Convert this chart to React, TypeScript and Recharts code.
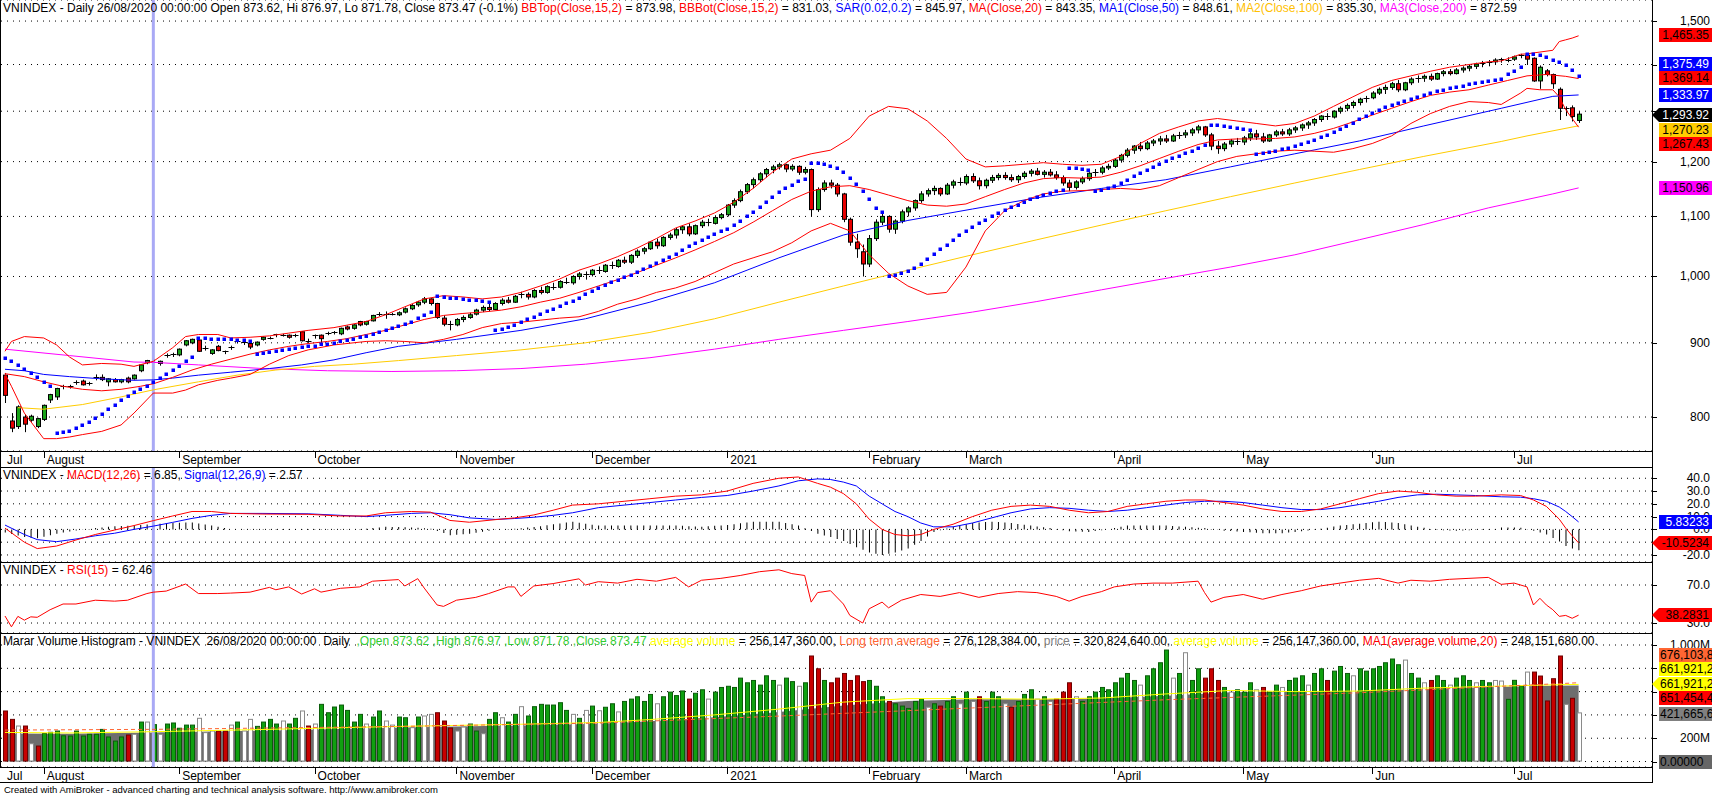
import React from "react";
import { ComposedChart, Bar, Line, Area, XAxis, YAxis, CartesianGrid, ReferenceLine } from "recharts";

// first bar of each month (bar index) and its label
const MONTHS: [number, string][] = [
  [0, "Jul"], [6, "August"], [27, "September"], [48, "October"], [70, "November"],
  [91, "December"], [112, "2021"], [134, "February"], [149, "March"], [172, "April"],
  [192, "May"], [212, "Jun"], [234, "Jul"],
];
const SELECTED = 23; // 26/08/2020

// open, high, low, close  (Jul 24 2020 .. Jul 15 2021)
const OHLC: number[][] = [
  [855,858,818,828],[795,805,781,786],[788,815,785,813],[800,803,781,791],[796,803,794,801],[788,799,786,798],
  [797,816,795,815],[822,830,818,829],[826,838,822,837],[839,842,836,840],[840,842,837,840],[845,848,842,846],[847,849,841,842],[843,846,841,845],[850,856,848,852],[852,856,847,849],[846,851,840,850],[849,851,845,846],[846,850,844,849],[851,853,844,846],[850,856,849,855],[861,870,859,869],[872,876,870,875],[873.62,876.97,871.78,873.47],[871,875,868,874],[881,885,879,883],[883,886,880,884],
  [883,892,881,891],[897,904,895,903],[900,906,898,905],[904,905,887,888],[891,896,889,892],[885,891,883,890],[895,897,888,889],[887,889,884,888],[892,896,890,894],[901,904,899,902],[900,903,897,901],[899,900,891,894],[897,902,895,901],[905,909,903,908],[907,909,905,907],[910,913,908,912],[911,913,909,911],[911,912,906,908],[911,913,908,911],[916,917,902,903],[903,906,900,903],
  [909,912,906,911],[911,912,899,906],[913,916,911,914],[915,917,912,915],[913,922,911,921],[923,925,918,920],[921,927,919,926],[931,932,924,926],[927,932,925,931],[932,941,931,940],[942,945,939,942],[942,946,935,942],[942,944,940,942],[941,946,939,944],[945,952,943,950],[950,957,948,955],[956,962,953,960],[960,968,957,965],[965,966,955,958],[958,959,935,937],[936,940,924,927],[927,932,918,925],
  [926,936,924,934],[934,940,930,937],[937,944,935,941],[942,950,940,948],[948,955,945,952],[952,958,946,949],[949,960,948,958],[958,966,955,963],[963,968,958,960],[960,971,959,969],[970,976,966,972],[972,975,964,968],[968,980,966,978],[978,984,972,975],[975,986,973,984],[984,990,979,983],[983,994,981,992],[992,998,988,990],[990,1002,987,1000],[1000,1007,995,1004],[1004,1008,995,1003],
  [1003,1012,1000,1010],[1010,1016,1004,1008],[1008,1020,1006,1018],[1018,1024,1012,1016],[1016,1028,1014,1026],[1026,1032,1020,1023],[1023,1036,1020,1034],[1034,1044,1030,1041],[1041,1048,1036,1045],[1045,1058,1043,1056],[1056,1062,1045,1050],[1050,1066,1048,1064],[1064,1072,1060,1068],[1068,1080,1062,1077],[1077,1085,1070,1082],[1082,1088,1066,1070],[1070,1086,1068,1084],[1084,1094,1080,1090],[1090,1096,1083,1088],[1088,1102,1086,1098],[1098,1106,1095,1103],
  [1103,1122,1100,1120],[1120,1132,1115,1128],[1128,1148,1125,1144],[1144,1160,1140,1157],[1157,1170,1150,1166],[1166,1180,1162,1177],[1177,1188,1170,1185],[1185,1194,1178,1190],[1190,1198,1185,1194],[1194,1196,1180,1186],[1186,1195,1182,1191],[1191,1193,1175,1180],[1180,1190,1176,1185],[1185,1187,1100,1112],[1112,1152,1108,1148],[1148,1165,1144,1160],[1160,1166,1150,1156],[1156,1160,1135,1140],[1140,1142,1090,1095],[1095,1098,1050,1056],[1056,1070,1030,1045],[1040,1052,1000,1020],
  [1020,1068,1015,1062],[1062,1095,1058,1090],[1090,1106,1085,1100],[1100,1102,1072,1078],[1078,1095,1070,1092],[1092,1112,1088,1108],[1108,1118,1100,1115],[1115,1130,1110,1128],[1128,1145,1124,1140],[1140,1150,1135,1146],[1146,1155,1138,1150],[1150,1152,1136,1140],[1140,1160,1138,1156],[1156,1166,1150,1162],[1162,1170,1155,1160],
  [1160,1176,1156,1172],[1172,1178,1160,1164],[1164,1170,1148,1155],[1155,1168,1150,1165],[1165,1175,1160,1170],[1170,1178,1165,1174],[1174,1180,1166,1170],[1170,1176,1162,1166],[1166,1175,1160,1172],[1172,1182,1168,1178],[1178,1186,1172,1182],[1182,1188,1174,1176],[1176,1184,1170,1180],[1180,1186,1172,1175],[1175,1182,1166,1170],[1170,1174,1155,1160],[1160,1166,1145,1152],[1152,1165,1148,1162],[1162,1172,1158,1168],[1168,1180,1164,1178],[1178,1186,1172,1180],[1180,1192,1176,1188],[1188,1196,1184,1191],
  [1191,1206,1188,1203],[1203,1215,1198,1212],[1212,1226,1208,1222],[1222,1232,1215,1230],[1230,1238,1220,1225],[1225,1240,1222,1236],[1236,1244,1230,1240],[1240,1250,1232,1244],[1244,1252,1236,1240],[1240,1254,1238,1250],[1250,1258,1244,1252],[1252,1262,1246,1256],[1256,1266,1250,1262],[1262,1272,1255,1268],[1268,1270,1248,1252],[1252,1256,1222,1230],[1230,1240,1215,1225],[1225,1238,1220,1234],[1234,1244,1228,1240],[1240,1246,1232,1238],
  [1238,1250,1232,1246],[1246,1258,1240,1254],[1254,1262,1242,1248],[1248,1256,1236,1240],[1240,1254,1238,1252],[1252,1262,1248,1258],[1258,1264,1250,1254],[1254,1266,1250,1262],[1262,1270,1256,1266],[1266,1275,1260,1272],[1272,1280,1264,1276],[1276,1286,1270,1283],[1283,1292,1278,1290],[1290,1296,1282,1288],[1288,1302,1285,1300],[1300,1310,1295,1306],[1306,1316,1300,1312],[1312,1322,1306,1318],[1318,1328,1312,1325],[1325,1332,1318,1328],
  [1328,1342,1325,1338],[1338,1350,1334,1346],[1346,1356,1336,1350],[1350,1362,1345,1358],[1358,1366,1340,1345],[1345,1362,1342,1360],[1360,1372,1355,1368],[1368,1376,1360,1370],[1370,1378,1362,1374],[1374,1380,1364,1368],[1368,1382,1366,1380],[1380,1388,1374,1384],[1384,1390,1376,1380],[1380,1392,1378,1388],[1388,1396,1382,1392],[1392,1400,1385,1396],[1396,1404,1390,1401],[1401,1408,1394,1404],[1404,1410,1396,1406],[1406,1414,1400,1410],[1410,1415,1404,1412],[1411,1416,1405,1411],
  [1412,1420,1408,1417],[1420,1424,1414,1421],[1421,1424,1399,1412],[1414,1416,1362,1364],[1364,1398,1347,1394],[1386,1390,1374,1378],[1378,1380,1347,1358],[1346,1350,1282,1306],[1307,1310,1290,1307],[1307,1312,1279,1289],[1281,1300,1276,1293.92],
];

// parabolic SAR, one value per bar
const SAR: number[] = [
  878,875,869,864,858,852,846,840,780,781,783,786,790,794,799,804,810,816,822,827,832,836,841,846,851,857,862,868,874,880,
  907,907,906,906,905,905,904,904,903,884,886,887,888,890,891,893,894,895,896,898,899,900,902,904,906,908,910,912,915,918,
  921,924,927,931,936,941,945,969,968,967,966,965,964,963,962,961,918,920,923,926,930,934,938,942,946,950,954,958,962,967,
  972,977,982,987,991,995,999,1003,1007,1012,1017,1022,1027,1032,1037,1043,1049,1054,1059,1064,1069,1074,1079,1085,1092,1100,1108,1117,1126,1135,
  1144,1151,1157,1163,1168,1198,1197,1195,1192,1187,1180,1170,1158,1145,1130,1115,1108,1000,1002,1005,1009,1014,1020,1028,1036,1044,1052,1060,1068,1075,
  1082,1088,1094,1100,1106,1111,1116,1121,1126,1130,1134,1138,1142,1145,1148,1188,1187,1186,1185,1145,1147,1150,1154,1160,1166,1172,1178,1184,1190,1196,
  1201,1206,1211,1216,1221,1227,1233,1272,1271,1270,1268,1266,1264,1262,1215,1217,1219,1221,1224,1227,1230,1234,1238,1242,1247,1252,1257,1263,1269,1276,
  1283,1290,1297,1303,1308,1313,1318,1322,1326,1330,1334,1338,1342,1345,1348,1351,1354,1357,1360,1362,1364,1366,1368,1379,1386,1395,1424,1424,1422,1417,
  1411,1405,1398,1388,1375.49,
];

// sparse readings [bar, value] ([bar, top, bottom] for the bands)
const BB: number[][] = [
  [0,888,857],[1,902,840],[3,909,805],[6,907,773],[8,897,773],[10,880,775],[12,869,778],[15,871,782],[18,870,790],[20,867,805],[23,873.98,831.03],[26,893,831],[28,909,835],[30,912,842],[33,912,848],[35,907,851],[38,908,856],[41,910,870],[44,914,882],[47,918,890],[51,922,897],[56,931,902],[59,941,903],[62,953,902],[65,965,900],[68,970,905],[71,968,912],[74,965,922],[77,968,928],[80,975,930],[83,985,933],[86,996,936],[89,1010,938],[92,1020,946],[95,1032,957],[98,1046,965],[101,1062,975],[104,1080,982],[107,1092,992],[110,1106,1006],[113,1125,1020],[116,1150,1030],[119,1180,1040],[122,1205,1055],[125,1215,1075],[128,1222,1088],[131,1245,1075],[134,1290,1035],[137,1310,1005],[140,1305,985],[143,1280,972],[146,1245,975],[149,1205,1015],[152,1190,1075],[155,1192,1110],[158,1195,1128],[161,1198,1140],[164,1195,1145],[167,1193,1146],[170,1195,1148],[173,1210,1150],[176,1235,1148],[179,1255,1155],[182,1268,1170],[185,1280,1185],[188,1285,1200],[191,1280,1210],[194,1275,1215],[197,1270,1220],[200,1275,1222],[203,1290,1220],[206,1310,1218],[209,1330,1225],[212,1350,1235],[215,1365,1250],[218,1375,1275],[221,1385,1295],[224,1394,1310],[227,1400,1320],[230,1406,1318],[232,1408,1314],[235,1423,1338],[236,1424,1348],[238,1428,1345],[240,1432,1345],[241,1452,1330],[242,1456,1303],[243,1460,1285],[244,1465.35,1267.43],
];
const MA20: number[][] = [
  [0,857],[3,853],[6,846],[9,840],[12,836],[15,834],[18,836],[21,840],[23,843.35],[26,852],[29,862],[32,870],[35,877],[38,884],[41,890],[44,895],[47,899],[50,902],[53,906],[56,912],[59,918],[62,926],[65,934],[68,940],[71,943],[74,945],[77,948],[80,953],[83,960],[86,966],[89,975],[92,985],[95,995],[98,1006],[101,1018],[104,1030],[107,1043],[110,1057],[113,1072],[116,1090],[119,1110],[122,1130],[125,1145],[128,1153],[131,1155],[134,1148],[137,1138],[140,1128],[143,1120],[146,1118],[149,1122],[152,1135],[155,1148],[158,1160],[161,1168],[164,1170],[167,1169],[170,1171],[173,1180],[176,1192],[179,1206],[182,1220],[185,1233],[188,1242],[191,1244],[194,1244],[197,1245],[200,1248],[203,1255],[206,1265],[209,1278],[212,1292],[215,1306],[218,1320],[221,1333],[224,1340],[227,1345],[230,1355],[233,1365],[236,1375],[239,1378],[242,1374],[244,1369.14],
];
const MA50: number[][] = [
  [0,863],[3,861],[6,856],[10,853],[15,850],[20,848],[23,848.61],[26,851],[30,855],[35,859],[41,864],[46,869],[51,876],[56,886],[61,895],[70,905],[80,918],[90,935],[100,960],[110,990],[120,1030],[130,1068],[140,1093],[150,1113],[160,1133],[170,1150],[180,1166],[190,1190],[200,1215],[210,1240],[220,1270],[232,1306],[240,1331],[244,1333.97],
];
const MA100: number[][] = [
  [2,812],[6,810],[12,816],[18,826],[23,835.3],[30,846],[36,855],[42,862],[48,867],[54,870],[61,875],[70,882],[80,890],[90,900],[100,915],[110,935],[120,960],[130,985],[140,1010],[150,1035],[160,1060],[170,1085],[180,1110],[190,1135],[200,1160],[210,1185],[220,1210],[232,1239],[236,1250],[244,1270.23],
];
const MA200: number[][] = [
  [0,891],[10,882],[20,873],[23,872.59],[30,869],[40,864],[50,861],[60,860],[70,861],[80,864],[90,870],[100,879],[110,891],[120,905],[130,918],[140,931],[150,945],[160,961],[170,979],[180,997],[190,1015],[200,1035],[210,1060],[220,1086],[230,1115],[240,1140],[244,1150.96],
];
const MACD: number[][] = [
  [0,1],[3,-10],[5,-15],[8,-13],[11,-8.3],[14,-4],[17,-0.5],[20,3],[23,6.85],[26,10.5],[29,14],[32,14],[35,12.5],[40,12],[47,11.8],[52,10.5],[56,10.5],[59,13],[63,14],[66,13.5],[69,7],[72,5.6],[76,7.6],[79,9],[82,11.3],[85,15],[88,19],[92,20],[96,22],[100,24],[104,26],[108,27],[112,30],[116,36],[120,40],[123,41],[126,36],[128,33],[130,28],[132,20],[134,8],[136,0],[138,-4],[140,-5],[142,-4],[144,0],[147,4],[150,10],[153,15],[156,18],[159,19],[162,18],[165,15],[168,13],[171,14],[174,18],[177,20],[180,22],[183,23],[186,23],[189,21],[192,19],[195,16],[198,14],[201,14],[204,16],[207,20],[210,24],[213,28],[216,30],[219,29],[222,27],[225,26],[228,26],[232,27],[235,26.5],[237,23],[239,18],[241,8],[242,1],[243,-5],[244,-10.52],
];
const SIGNAL: number[][] = [
  [0,3.4],[3,-4],[5,-8],[8,-9.6],[11,-7.5],[14,-5],[17,-3],[20,0],[23,2.57],[26,5.5],[29,8.6],[32,11],[35,12.5],[40,12.5],[47,12.2],[52,11],[56,10],[59,11],[63,12.5],[66,13],[69,11.5],[72,9],[76,7.8],[79,8.5],[82,9.5],[85,11],[88,13],[92,17],[96,19],[100,21],[104,23],[108,25],[112,26.5],[116,30],[120,34],[123,38],[126,39.5],[128,39],[130,37],[132,34],[134,26],[136,20],[138,14],[140,10],[142,5],[144,2],[147,2],[150,5],[153,9],[156,13],[159,16],[162,17],[165,16.5],[168,15],[171,14],[174,15],[177,17],[180,19],[183,21],[186,22],[189,22],[192,21],[195,19],[198,17],[201,15.5],[204,15.5],[207,17],[210,19.5],[213,22],[216,25],[219,27],[222,27.5],[225,27],[228,26.5],[232,25.5],[235,25.2],[237,24],[239,22],[241,17.5],[242,14],[243,10],[244,5.83],
];
// MACD histogram, one value per bar
const HIST: number[] = [
  -2.4,-3.6,-4.8,-6,-6.5,-7,-5.8,-4.6,-3.4,-2.5, -1.7,-0.8,-0.2,0.4,1,1.5,2,2.5,2.7,2.8,
  3,3.4,3.9,4.3,4.5,4.8,5,5.1,5.3,5.4, 4.6,3.8,3,2,1,0,-0.1,-0.2,-0.3,-0.4,
  -0.5,-0.5,-0.5,-0.5,-0.4,-0.4,-0.4,-0.4,-0.5,-0.5, -0.5,-0.5,-0.5,-0.2,0,0.3,0.5,1,1.5,2,
  1.9,1.8,1.6,1.5,1.2,0.8,0.5,-1.2,-2.8,-4.5, -4.1,-3.8,-3.4,-2.6,-1.8,-1,-0.2,0,0.3,0.5,
  0.9,1.4,1.8,2.5,3.3,4,4.7,5.3,6,5.2, 4.5,3.7,3,3,3,3,3,3,3,3,
  3,3,3,3,3,2.8,2.5,2.3,2,2.4, 2.8,3.1,3.5,4.1,4.8,5.4,6,6,6,6,
  6,5,4,3,0.8,-1.3,-3.5,-4.8,-6,-7.5, -9,-11.5,-14,-16,-18,-19,-20,-19,-18,-16.5,
  -15,-12,-9,-5.5,-2,-0.7,0.7,2,3,4, 5,5.3,5.7,6,5.7,5.3,5,4.3,3.7,3,
  2.3,1.7,1,0.2,-0.7,-1.5,-1.7,-1.8,-2,-1.3, -0.7,0,1,2,3,3,3,3,3,3,
  3,2.7,2.3,2,1.7,1.3,1,0.3,-0.3,-1, -1.3,-1.7,-2,-2.3,-2.7,-3,-3,-3,-3,-2.5,
  -2,-1.5,-0.8,-0.2,0.5,1.3,2.2,3,3.5,4, 4.5,5,5.5,6,5.7,5.3,5,4,3,2,
  1.2,0.3,-0.5,-0.7,-0.8,-1,-0.8,-0.7,-0.5,-0.4, -0.3,-0.2,1.5,1.4,1.4,1.3,0.2,-1,-2.5,-4,
  -6.7,-9.5,-13,-15,-16.35,
];
const RSI: number[][] = [
  [0,37.4],[1,26],[2,37],[3,33],[4,36.5],[5,36],[7,44],[9,50],[11,50],[14,54],[17,53],[19,54],[22,61],[23,62.46],[25,63.6],[28,71],[30,61],[33,61],[35,61.5],[38,62.5],[41,67.5],[42,65],[44,68],[46,60.5],[48,66],[49,62.5],[52,66.5],[55,68],[57,74],[61,75.7],[62,69],[64,76.7],[65,66.8],[67,49],[68,47.5],[70,54],[73,57],[75,61],[78,68],[79,68],[80,58],[82,69],[85,71.5],[89,76.5],[90,70],[92,73.5],[95,72],[98,76],[101,74],[104,78],[106,68],[108,75],[111,77],[114,80],[117,84],[120,86],[122,82],[124,80],[125,52],[126,62],[128,64],[130,50],[131,38],[133,30],[134,45],[136,52],[137,46],[139,54],[142,60],[145,58],[148,62],[151,57],[154,61],[157,63],[160,62],[163,58],[165,53],[167,58],[170,63],[172,68],[175,71],[178,72],[181,72],[185,74],[186,62],[187,52],[189,57],[192,60],[195,55],[198,60],[201,64],[204,69],[207,72],[210,75],[213,77],[216,72],[218,75],[221,74],[224,76],[227,77],[230,78],[232,70.7],[234,72],[236,68],[237,49],[238,56],[239,49],[240,44],[241,37],[242,38],[243,35],[244,38.28],
];

// volume in millions, one per bar, and Marar colour: g = green, r = red, w = white
const VOLUME: number[] = [
  438,366,309,309,157,137,245,255,266,225,223,266,223,238,238,280,215,180,215,232,238,343,343,320.8,238,326,335,
  290,317,317,375,252,266,266,266,317,343,266,366,306,343,366,326,352,326,375,438,309,
  326,495,423,472,489,443,343,409,326,386,438,352,317,386,380,295,386,395,409,423,352,292,
  266,300,326,266,243,366,423,380,343,409,475,395,475,495,489,489,509,443,409,375,443,
  480,440,470,500,430,520,540,560,520,580,500,560,600,570,610,540,590,620,540,600,640,
  650,640,720,680,700,660,740,700,660,720,690,650,680,910,800,700,680,720,760,700,740,690,
  700,650,560,520,500,480,460,520,540,470,500,480,520,560,500,
  600,520,560,520,600,560,500,470,520,580,620,540,560,520,540,600,680,560,520,560,600,640,620,
  680,720,760,700,660,740,800,852,961,720,760,938,700,800,720,800,700,640,600,620,
  600,680,620,640,600,660,640,700,720,740,660,760,800,700,780,820,760,740,800,780,
  800,820,852,884,835,875,760,720,680,700,740,700,660,720,740,700,680,700,680,700,695,538,
  701,652,772,772,738,524,715,910,495,547,421.67,
];
const VOL_COLOR: string[] = (
  "rrwrwrgggggggggggggrwgwgwgg" + "gggwwwrrwgwwggggwggwr" + "wgggggggwggwwggwgwwrrr" +
  "wwggwggwggwgggggggwgw" + "gwggwgggggwggggrggwgg" + "ggggggggwggwgrrgrrrrrr" +
  "gggrgggggwgrggw" + "gwrgggwrgggwgwrrrwggggg" + "ggggwggggwgwggrrrgwg" +
  "ggwrggwgggwggrgggwgg" + "gggggwggwrggwgggwggwwg" + "ggwrrrrrwrw"
).split("");
const AVG_VOL: number[][] = [
  [0,250],[10,245],[23,256.15],[40,275],[60,300],[80,320],[92,335],[100,360],[110,400],[120,450],[130,510],[140,540],[150,540],[160,535],[170,545],[180,580],[190,610],[200,600],[210,605],[220,630],[230,645],[240,658],[244,661.92],
];
const AVG_VOL_MA: number[][] = [
  [0,240],[10,238],[23,248.15],[40,265],[60,290],[80,310],[92,325],[100,345],[110,380],[120,425],[130,480],[140,520],[150,535],[160,535],[170,540],[180,565],[190,595],[200,600],[210,600],[220,620],[230,640],[240,650],[244,651.45],
];
const LONG_AVG: number[][] = [
  [0,270],[23,276.13],[60,300],[92,330],[120,390],[150,460],[180,530],[210,590],[244,676.1],
];

const PRICE_TICKS = [800, 900, 1000, 1100, 1200, 1300, 1400, 1500];
const MACD_TICKS = [-20, -10, 0, 10, 20, 30, 40];
const RSI_TICKS = [30, 70];
const VOL_TICKS = [0, 200, 400, 600, 800, 1000];

const W = 1712;
const X_DOMAIN: [number, number] = [-0.62, 255.38];
const FONT = "'Liberation Sans', Arial, Helvetica, sans-serif";
const SEL_COLOR = "#a9a9f5";
const UP = "#19a319";
const DOWN = "#e60000";

const rows: any[] = OHLC.map((d, i) => ({
  i, o: d[0], h: d[1], l: d[2], c: d[3], range: [d[2], d[1]],
  sar: SAR[i], hist: HIST[i], vol: VOLUME[i], vc: VOL_COLOR[i],
}));
const put = (key: string, pts: number[][], col = 1) => pts.forEach((p) => { rows[p[0]][key] = p[col]; });
put("bbTop", BB, 1);
put("bbBot", BB, 2);
put("ma20", MA20);
put("ma50", MA50);
put("ma100", MA100);
put("ma200", MA200);
put("macd", MACD);
put("signal", SIGNAL);
put("rsi", RSI);
put("avgVol", AVG_VOL);
put("avgVolMa", AVG_VOL_MA);
put("longAvg", LONG_AVG);

const monthLabel: Record<number, string> = Object.fromEntries(MONTHS);

const MonthTick = ({ x, y, payload }: any) => {
  const first = payload.value === 0;
  const px = Math.round(x) + 0.5;
  return (
    <g>
      {!first && <line x1={px} x2={px} y1={y} y2={y + 7} stroke="#000" />}
      <text x={first ? x + 2 : x + 3} y={y + 13} fontSize={12} fontFamily={FONT} fill="#000">
        {monthLabel[payload.value]}
      </text>
    </g>
  );
};

// labels listed in "covered" sit fully under a value badge, so only their tick mark is drawn
const AxisTick = ({ x, y, payload, fmt, covered }: any) => {
  const py = Math.round(y) + 0.5;
  const hidden = covered && covered.includes(payload.value);
  return (
    <g>
      <line x1={x} x2={x + 5} y1={py} y2={py} stroke="#000" />
      {!hidden && (
        <text x={W - 2} y={y + 4} textAnchor="end" fontSize={12} fontFamily={FONT} fill="#000">
          {fmt(payload.value)}
        </text>
      )}
    </g>
  );
};

const Candle = (props: any) => {
  const { x, y, width, height, payload } = props;
  if (!payload || x == null || y == null) return null;
  const cx = Math.round(x + width / 2) + 0.5;
  const { o, h, l, c } = payload;
  const lh = Math.log(h);
  const ll = Math.log(l);
  const py = (v: number) => (lh === ll ? y : y + (height * (lh - Math.log(v))) / (lh - ll));
  const top = py(Math.max(o, c));
  const bot = py(Math.min(o, c));
  const flat = bot - top < 1.5;
  return (
    <g>
      <line x1={cx} x2={cx} y1={y} y2={y + height} stroke="#000" />
      {flat ? (
        <line x1={cx - 3} x2={cx + 3} y1={Math.round(top) + 0.5} y2={Math.round(top) + 0.5} stroke="#000" />
      ) : (
        <rect x={cx - 2} y={top} width={4} height={bot - top} fill={c > o ? UP : DOWN} stroke="#000" />
      )}
    </g>
  );
};

const VOL_STYLE: Record<string, { fill: string; stroke: string }> = {
  g: { fill: "#10a010", stroke: "#0a5c0a" },
  r: { fill: "#c80000", stroke: "#6e0000" },
  w: { fill: "#ffffff", stroke: "#8a8a8a" },
};

const VolBar = (props: any) => {
  const { x, y, width, height, payload } = props;
  if (!payload || x == null || !(height > 0)) return null;
  const cx = Math.round(x + width / 2);
  const s = VOL_STYLE[payload.vc] || VOL_STYLE.w;
  return <rect x={cx - 2 + 0.5} y={y + 0.5} width={4} height={Math.max(0, height - 1)} fill={s.fill} stroke={s.stroke} />;
};

const SarDot = (p: any) => {
  if (p.cy == null || p.cx == null) return <g key={`s${p.index}`} />;
  return <rect key={`s${p.index}`} x={Math.round(p.cx) - 1.5} y={Math.round(p.cy) - 1.5} width={3.5} height={3.5} fill="#0000ff" />;
};

const line = (key: string, color: string, extra: any = {}) => (
  <Line
    key={key}
    dataKey={key}
    type="linear"
    stroke={color}
    strokeWidth={1}
    dot={false}
    activeDot={false}
    connectNulls
    isAnimationActive={false}
    {...extra}
  />
);

const Title = ({ top, parts }: { top: number; parts: [string, string][] }) => (
  <div style={{ position: "absolute", left: 3, top, fontSize: 12, lineHeight: "15px", whiteSpace: "pre", fontFamily: FONT }}>
    {parts.map(([t, col], k) => (
      <span key={k} style={{ color: col }}>{t}</span>
    ))}
  </div>
);

type Badge = { t: string; bg: string; fg: string; y: number; arrow?: boolean; left?: boolean };
const BADGES: Badge[] = [
  { t: "1,465.35", bg: "#ff0000", fg: "#000", y: 35 },
  { t: "1,375.49", bg: "#0000ff", fg: "#fff", y: 64 },
  { t: "1,369.14", bg: "#ff0000", fg: "#000", y: 78 },
  { t: "1,333.97", bg: "#0000ff", fg: "#fff", y: 95 },
  { t: "1,293.92", bg: "#000000", fg: "#fff", y: 115, arrow: true },
  { t: "1,270.23", bg: "#ffcc00", fg: "#000", y: 130 },
  { t: "1,267.43", bg: "#ff0000", fg: "#000", y: 144 },
  { t: "1,150.96", bg: "#ff00ff", fg: "#000", y: 188 },
  { t: "5.83233", bg: "#0000ff", fg: "#fff", y: 522 },
  { t: "-10.5234", bg: "#ff0000", fg: "#000", y: 543, arrow: true },
  { t: "38.2831", bg: "#ff0000", fg: "#000", y: 615, arrow: true },
  { t: "676,103,8", bg: "#ff6633", fg: "#000", y: 655, left: true },
  { t: "661,921,2", bg: "#ffff00", fg: "#000", y: 669, left: true },
  { t: "661,921,2", bg: "#ffff00", fg: "#000", y: 684, arrow: true, left: true },
  { t: "651,454,4", bg: "#ff0000", fg: "#000", y: 698, left: true },
  { t: "421,665,6", bg: "#808080", fg: "#000", y: 714, left: true },
  { t: "0.00000", bg: "#666666", fg: "#000", y: 762, left: true },
];

const BadgeView = ({ b }: { b: Badge }) => (
  <>
    {b.arrow && (
      <div
        style={{
          position: "absolute", left: 1652, top: b.y - 7, width: 0, height: 0,
          borderTop: "7px solid transparent", borderBottom: "7px solid transparent", borderRight: `7px solid ${b.bg}`,
        }}
      />
    )}
    <div
      style={{
        position: "absolute", left: 1659, top: b.y - 7, width: 53, height: 14, background: b.bg, color: b.fg,
        fontSize: 12, lineHeight: "14px", whiteSpace: "nowrap", overflow: "hidden", fontFamily: FONT,
        textAlign: b.left ? "left" : "right", paddingLeft: b.left ? 1 : 0, paddingRight: b.left ? 0 : 3, boxSizing: "border-box",
      }}
    >
      {b.t}
    </div>
  </>
);

const xAxisHidden = <XAxis type="number" dataKey="i" domain={X_DOMAIN} allowDataOverflow hide />;
const xAxisMonths = (
  <XAxis
    type="number" dataKey="i" domain={X_DOMAIN} allowDataOverflow height={16}
    ticks={MONTHS.map((m) => m[0])} interval={0} tick={<MonthTick />}
    tickLine={false} axisLine={false} tickSize={0} tickMargin={0}
  />
);
const yAxis = (domain: [number, number], ticks: number[], fmt: (v: number) => string, covered: number[], extra: any = {}) => (
  <YAxis
    orientation="right" width={60} domain={domain} ticks={ticks} interval={0} allowDataOverflow
    tick={<AxisTick fmt={fmt} covered={covered} />} tickLine={false} axisLine={false} tickSize={0} tickMargin={0} {...extra}
  />
);
const grid = <CartesianGrid vertical={false} stroke="#000" strokeDasharray="1 5" />;
const selLine = <ReferenceLine x={SELECTED} stroke={SEL_COLOR} strokeWidth={3} />;
const MARGIN = { top: 0, right: 0, bottom: 0, left: 1 };

export default function App() {
  return (
    <div style={{ position: "absolute", left: 0, top: 0, width: W, height: 796, background: "#fff", overflow: "hidden", fontFamily: FONT }}>
      <div style={{ position: "absolute", left: 0, top: 0 }}>
        <ComposedChart width={W} height={467} data={rows} margin={MARGIN}>
          {grid}
          {xAxisMonths}
          {yAxis([758, 1551], PRICE_TICKS, (v) => v.toLocaleString("en-US"), [1300, 1400], { scale: "log" })}
          {selLine}
          {line("ma200", "#ff00ff")}
          {line("ma100", "#ffcc00")}
          {line("ma50", "#0000ff")}
          {line("ma20", "#ff0000")}
          {line("bbTop", "#ff0000")}
          {line("bbBot", "#ff0000")}
          <Bar dataKey="range" barSize={5} shape={<Candle />} isAnimationActive={false} />
          <Line dataKey="sar" stroke="none" dot={SarDot} activeDot={false} isAnimationActive={false} />
        </ComposedChart>
      </div>

      <div style={{ position: "absolute", left: 0, top: 467 }}>
        <ComposedChart width={W} height={95} data={rows} margin={MARGIN}>
          {grid}
          {xAxisHidden}
          {yAxis([-25.5, 48.8], MACD_TICKS, (v) => v.toFixed(1), [-10])}
          {selLine}
          <Bar dataKey="hist" barSize={1} fill="#000" isAnimationActive={false} />
          {line("signal", "#0000ff")}
          {line("macd", "#ff0000")}
        </ComposedChart>
      </div>

      <div style={{ position: "absolute", left: 0, top: 562 }}>
        <ComposedChart width={W} height={71} data={rows} margin={MARGIN}>
          {grid}
          {xAxisHidden}
          {yAxis([19.5, 94.2], RSI_TICKS, (v) => v.toFixed(1), [])}
          {selLine}
          {line("rsi", "#ff0000")}
        </ComposedChart>
      </div>

      <div style={{ position: "absolute", left: 0, top: 633 }}>
        <ComposedChart width={W} height={150} data={rows} margin={MARGIN}>
          {grid}
          {xAxisMonths}
          {yAxis([-47, 1103], VOL_TICKS, (v) => `${v.toLocaleString("en-US")}M`, [0, 400, 600, 800])}
          <Area dataKey="avgVolMa" type="linear" stroke="none" fill="#6e6e6e" fillOpacity={1} connectNulls isAnimationActive={false} />
          {selLine}
          <Bar dataKey="vol" barSize={5} shape={<VolBar />} isAnimationActive={false} />
          {line("avgVol", "#ffff00")}
          {line("longAvg", "#ff6633", { strokeDasharray: "4 3" })}
        </ComposedChart>
      </div>

      <svg width={W} height={796} style={{ position: "absolute", left: 0, top: 0, pointerEvents: "none" }}>
        <line x1={0.5} x2={0.5} y1={0} y2={767} stroke="#000" />
        <line x1={1652.5} x2={1652.5} y1={0} y2={783} stroke="#000" />
        {[451.5, 467.5, 562.5, 633.5, 767.5, 782.5].map((y) => (
          <line key={y} x1={0} x2={1652} y1={y} y2={y} stroke="#000" />
        ))}
      </svg>

      <Title
        top={1}
        parts={[
          ["VNINDEX - Daily 26/08/2020 00:00:00 Open 873.62, Hi 876.97, Lo 871.78, Close 873.47 (-0.1%) ", "#000"],
          ["BBTop(Close,15,2)", "#ff0000"], [" = 873.98, ", "#000"],
          ["BBBot(Close,15,2)", "#ff0000"], [" = 831.03, ", "#000"],
          ["SAR(0.02,0.2)", "#0000ff"], [" = 845.97, ", "#000"],
          ["MA(Close,20)", "#ff0000"], [" = 843.35, ", "#000"],
          ["MA1(Close,50)", "#0000ff"], [" = 848.61, ", "#000"],
          ["MA2(Close,100)", "#ffc000"], [" = 835.30, ", "#000"],
          ["MA3(Close,200)", "#ff00ff"], [" = 872.59", "#000"],
        ]}
      />
      <Title
        top={468}
        parts={[["VNINDEX - ", "#000"], ["MACD(12,26)", "#ff0000"], [" = 6.85, ", "#000"], ["Signal(12,26,9)", "#0000ff"], [" = 2.57", "#000"]]}
      />
      <Title top={563} parts={[["VNINDEX - ", "#000"], ["RSI(15)", "#ff0000"], [" = 62.46", "#000"]]} />
      <Title
        top={634}
        parts={[
          ["Marar Volume Histogram - VNINDEX  26/08/2020 00:00:00  Daily  ", "#000"],
          [",Open 873.62 ,High 876.97 ,Low 871.78 ,Close 873.47 ", "#33cc33"],
          ["average volume", "#ffff00"], [" = 256,147,360.00, ", "#000"],
          ["Long term average", "#ff6633"], [" = 276,128,384.00, ", "#000"],
          ["price", "#808080"], [" = 320,824,640.00, ", "#000"],
          ["average volume", "#ffff00"], [" = 256,147,360.00, ", "#000"],
          ["MA1(average volume,20)", "#ff0000"], [" = 248,151,680.00.", "#000"],
        ]}
      />
      <div style={{ position: "absolute", left: 4, top: 784, fontSize: 9.5, lineHeight: "12px", color: "#000", fontFamily: FONT, whiteSpace: "pre" }}>
        Created with AmiBroker - advanced charting and technical analysis software. http://www.amibroker.com
      </div>

      {BADGES.map((b, k) => (
        <BadgeView key={k} b={b} />
      ))}
    </div>
  );
}
